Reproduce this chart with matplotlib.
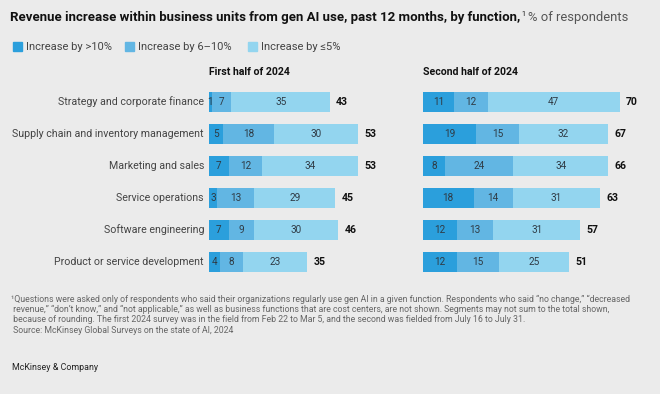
import matplotlib.pyplot as plt
from matplotlib.patches import Rectangle

categories = ["Strategy and corporate finance", "Supply chain and inventory management",
              "Marketing and sales", "Service operations", "Software engineering",
              "Product or service development"]
series_names = ["Increase by >10%", "Increase by 6\u201310%", "Increase by \u22645%"]
h1_gt10 = [1, 5, 7, 3, 7, 4]
h1_6_10 = [7, 18, 12, 13, 9, 8]
h1_le5 = [35, 30, 34, 29, 30, 23]
h1_total = [43, 53, 53, 45, 46, 35]
h2_gt10 = [11, 19, 8, 18, 12, 12]
h2_6_10 = [12, 15, 24, 14, 13, 15]
h2_le5 = [47, 32, 34, 31, 31, 25]
h2_total = [70, 67, 66, 63, 57, 51]
panel_titles = ["First half of 2024", "Second half of 2024"]

colors = ["#2b9fdc", "#62b6e3", "#93d5ef"]
bg = "#ebebeb"
W, H = 660, 394
FONT = "Roboto"
plt.rcParams['font.family'] = [FONT, 'DejaVu Sans']

fig = plt.figure(figsize=(W / 100, H / 100), dpi=100)
fig.patch.set_facecolor(bg)

def px_axes(x0, y0, w, h):
    return fig.add_axes([x0 / W, 1 - (y0 + h) / H, w / W, h / H])

pxu = 2.81
xmax = 75
row_h = 32
top = 86

def panel(x0, vals, totals, title):
    ax = px_axes(x0, top, pxu * xmax, row_h * 6)
    ax.set_xlim(0, xmax)
    ax.set_ylim(5.5, -0.5)
    ax.axis('off')
    ax.patch.set_alpha(0)
    n = len(categories)
    left = [0] * n
    for s, v in enumerate(vals):
        ax.barh(range(n), v, left=left, height=0.63, color=colors[s], linewidth=0)
        for i in range(n):
            ax.text(left[i] + v[i] / 2, i, str(v[i]), ha='center', va='center',
                    fontsize=7.2, color='#2f3b45')
        left = [l + x for l, x in zip(left, v)]
    for i in range(n):
        ax.text(left[i] + 2.2, i, str(totals[i]), ha='left', va='center',
                fontsize=7.6, fontweight='bold', color='#111111')
    fig.text(x0 / W, 1 - 72 / H, title, ha='left', va='center', fontsize=7.6,
             fontweight='bold', color='#111111')
    return ax

axL = panel(209, [h1_gt10, h1_6_10, h1_le5], h1_total, panel_titles[0])
axR = panel(423, [h2_gt10, h2_6_10, h2_le5], h2_total, panel_titles[1])

for i, c in enumerate(categories):
    fig.text(204 / W, 1 - (102 + i * row_h) / H, c, ha='right', va='center',
             fontsize=7.7, color='#444444')

# title
t = fig.text(10 / W, 1 - 17 / H, "Revenue increase within business units from gen AI use, past 12 months, by function,",
             ha='left', va='center', fontsize=9.5, fontweight='bold', color='#111111')
fig.canvas.draw()
bb = t.get_window_extent()
fig.text(bb.x1 / W + 0.001, 1 - 14 / H, "1", ha='left', va='center', fontsize=5, color='#111111')
fig.text(bb.x1 / W + 0.011, 1 - 17 / H, "% of respondents", ha='left', va='center',
         fontsize=9.4, color='#555555')

# legend
lx = [13, 125, 248]
for i, name in enumerate(series_names):
    fig.patches.append(Rectangle((lx[i] / W, 1 - 51 / H), 9 / W, 9 / H,
                                 transform=fig.transFigure, color=colors[i]))
    fig.text((lx[i] + 13) / W, 1 - 46.5 / H, name, ha='left', va='center',
             fontsize=8.0, color='#444444')

foot = ["\u00b9Questions were asked only of respondents who said their organizations regularly use gen AI in a given function. Respondents who said \u201cno change,\u201d \u201cdecreased",
        " revenue,\u201d \u201cdon\u2019t know,\u201d and \u201cnot applicable,\u201d as well as business functions that are cost centers, are not shown. Segments may not sum to the total shown,",
        " because of rounding. The first 2024 survey was in the field from Feb 22 to Mar 5, and the second was fielded from July 16 to July 31.",
        " Source: McKinsey Global Surveys on the state of AI, 2024"]
for i, line in enumerate(foot):
    fig.text(11 / W, 1 - (299 + i * 10.5) / H, line, ha='left', va='center',
             fontsize=6.3, color='#666666')

fig.text(12 / W, 1 - 367 / H, "McKinsey & Company", ha='left', va='center',
         fontsize=6.4, color='#222222')

fig.savefig("out.png", dpi=100, facecolor=bg)
